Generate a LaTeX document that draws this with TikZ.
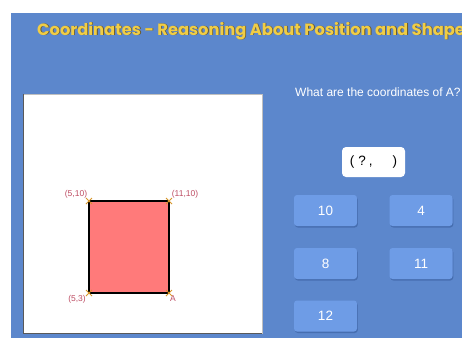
\documentclass[tikz,border=0pt]{standalone}
\usepackage{fontspec}
\setmainfont{Liberation Sans}
\newfontfamily\titlefont{Poppins}
\usepackage{tikz}
\usetikzlibrary{shadows}

\definecolor{boardblue}{RGB}{92,135,204}
\definecolor{btnblue}{RGB}{110,156,230}
\definecolor{btnshade}{RGB}{62,100,165}
\definecolor{shapered}{RGB}{255,122,122}
\definecolor{ptred}{RGB}{190,78,100}
\definecolor{tickorange}{RGB}{215,150,40}
\definecolor{titleyellow}{RGB}{240,205,70}
\definecolor{titleedge}{RGB}{105,88,40}

\begin{document}
\begin{tikzpicture}[x=1pt, y=-1pt, every node/.style={inner sep=0pt},
  btn/.style={fill=btnblue, rounded corners=3pt, minimum width=63pt, minimum height=31pt,
    text=white, font=\fontsize{13.5}{15}\selectfont,
    drop shadow={shadow xshift=0.8pt, shadow yshift=-1.5pt, fill=btnshade, opacity=0.7}},
  ptlabel/.style={text=ptred, font=\fontsize{8.5}{10}\selectfont},
  tick/.style={draw=tickorange, line width=0.8pt}]
  \useasboundingbox (0,0) rectangle (462,338);
  \fill[white] (0,0) rectangle (462,338);
  \fill[boardblue] (11,13) rectangle (462,338);
  % title
  \begin{scope}
    \clip (11,13) rectangle (462,338);
    \node[anchor=base west, text=titleedge, font=\titlefont\bfseries\fontsize{16.3}{18}\selectfont] (titleshade) at (37.8,35.8) {Coordinates - Reasoning About Position and Shape};
    \node[anchor=base west, text=titleyellow, font=\titlefont\bfseries\fontsize{16.3}{18}\selectfont] (title) at (37,35) {Coordinates - Reasoning About Position and Shape};
  \end{scope}
  % grid panel
  \fill[white] (23,94) rectangle (262,333);
  \draw[black!25, line width=0.4pt] (23,94) rectangle (262,333);
  \draw[black!65, line width=0.9pt] (23,94) -- (23,333) -- (262,333);
  \coordinate (sw) at (89,293);
  \coordinate (nw) at (89,201);
  \coordinate (ne) at (169,201);
  \coordinate (se) at (169,293);
  \filldraw[fill=shapered, draw=black, line width=1.3pt] (sw) -- (nw) -- (ne) -- (se) -- cycle;
  \foreach \c in {sw,nw,ne,se}{
    \draw[tick] ([shift={(-3,-3)}]\c) -- ([shift={(3,3)}]\c);
    \draw[tick] ([shift={(-3,3)}]\c) -- ([shift={(3,-3)}]\c);
  }
  \node[ptlabel] (lblnw) at (76,194) {(5,10)};
  \node[ptlabel] (lblne) at (185,194) {(11,10)};
  \node[ptlabel] (lblsw) at (77,299) {(5,3)};
  \node[ptlabel] (lbla) at (173,299) {A};
  % question
  \node[anchor=west, text=white, font=\fontsize{12}{14}\selectfont] (question) at (295,92) {What are the coordinates of A?};
  \node[fill=white, rounded corners=4pt, minimum width=63pt, minimum height=30pt,
    font=\fontsize{13.5}{15}\selectfont] (answer) at (373.5,162) {(\hspace{4pt}?\hspace{3pt},\hspace{20pt})};
  % answer buttons
  \node[btn] (ten) at (325.5,210.5) {10};
  \node[btn] (four) at (421,210.5) {4};
  \node[btn] (eight) at (325.5,263.5) {8};
  \node[btn] (eleven) at (421,263.5) {11};
  \node[btn] (twelve) at (325.5,316) {12};
\end{tikzpicture}
\end{document}
